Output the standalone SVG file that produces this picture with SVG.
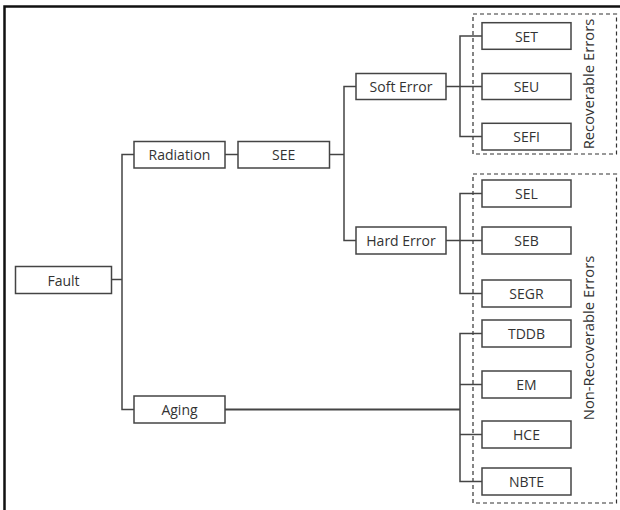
<svg xmlns="http://www.w3.org/2000/svg" width="620" height="510" viewBox="0 0 620 510">
<style>
.n rect{fill:#fff;stroke:#444;stroke-width:1.5}
.n text{font-family:"Open Sans","Liberation Sans",sans-serif;font-size:14px;fill:#333;text-anchor:middle;dominant-baseline:central}
.c{fill:none;stroke:#444;stroke-width:1.5}
.g rect{fill:none;stroke:#333;stroke-width:1.2;stroke-dasharray:4 3}
.g text{font-family:"Open Sans","Liberation Sans",sans-serif;font-size:14.8px;fill:#333;text-anchor:middle;dominant-baseline:central}
</style>
<rect width="620" height="510" fill="#fff"/>
<path d="M4.5 510V6.5H620" fill="none" stroke="#111" stroke-width="2.5"/>
<g id="groups" class="g">
<g id="recoverable"><rect x="473" y="14" width="143.5" height="140"/><text transform="translate(588 84) rotate(-90)">Recoverable Errors</text></g>
<g id="nonrecoverable"><rect x="473" y="174" width="143.5" height="329"/><text transform="translate(588 338) rotate(-90)">Non-Recoverable Errors</text></g>
</g>
<g id="connectors" class="c">
<path d="M111.5 279.5H122"/>
<path d="M134 154.5H122V409.5H134"/>
<path d="M225 154.5H238"/>
<path d="M329.5 154.5H344"/>
<path d="M356 86.5H344V240.5H356"/>
<path d="M446 86.5H482"/>
<path d="M482 36H460V136.5H482"/>
<path d="M446 240.5H482"/>
<path d="M482 193.5H460V293.5H482"/>
<path d="M225 409.5H460" stroke-width="2"/>
<path d="M482 333.5H460V481.5H482"/>
<path d="M460 384.5H482"/>
<path d="M460 434.5H482"/>
</g>
<g id="fault" class="n"><rect x="15.5" y="266.5" width="96" height="27"/><text x="63.5" y="280">Fault</text></g>
<g id="radiation" class="n"><rect x="134" y="141.5" width="91" height="26.5"/><text x="179.5" y="154.5">Radiation</text></g>
<g id="see" class="n"><rect x="238" y="141.5" width="91.5" height="26.5"/><text x="283.7" y="154.5">SEE</text></g>
<g id="aging" class="n"><rect x="134" y="396" width="91" height="27"/><text x="179.5" y="409.5">Aging</text></g>
<g id="soft" class="n"><rect x="356" y="73.5" width="90" height="26"/><text x="401" y="86.5">Soft Error</text></g>
<g id="hard" class="n"><rect x="356" y="227" width="90" height="27"/><text x="401" y="240.5">Hard Error</text></g>
<g id="set" class="n"><rect x="482" y="22.7" width="89" height="26.6"/><text x="526.5" y="36">SET</text></g>
<g id="seu" class="n"><rect x="482" y="73.5" width="89" height="26"/><text x="526.5" y="86.5">SEU</text></g>
<g id="sefi" class="n"><rect x="482" y="123.3" width="89" height="26.7"/><text x="526.5" y="136.5">SEFI</text></g>
<g id="sel" class="n"><rect x="482" y="180" width="89" height="27"/><text x="526.5" y="193.5">SEL</text></g>
<g id="seb" class="n"><rect x="482" y="227" width="89" height="27"/><text x="526.5" y="240.5">SEB</text></g>
<g id="segr" class="n"><rect x="482" y="280" width="89" height="27"/><text x="526.5" y="293.5">SEGR</text></g>
<g id="tddb" class="n"><rect x="482" y="320" width="89" height="27"/><text x="526.5" y="333.5">TDDB</text></g>
<g id="em" class="n"><rect x="482" y="371" width="89" height="27"/><text x="526.5" y="384.5">EM</text></g>
<g id="hce" class="n"><rect x="482" y="421" width="89" height="27"/><text x="526.5" y="434.5">HCE</text></g>
<g id="nbte" class="n"><rect x="482" y="468" width="89" height="27"/><text x="526.5" y="481.5">NBTE</text></g>
</svg>
